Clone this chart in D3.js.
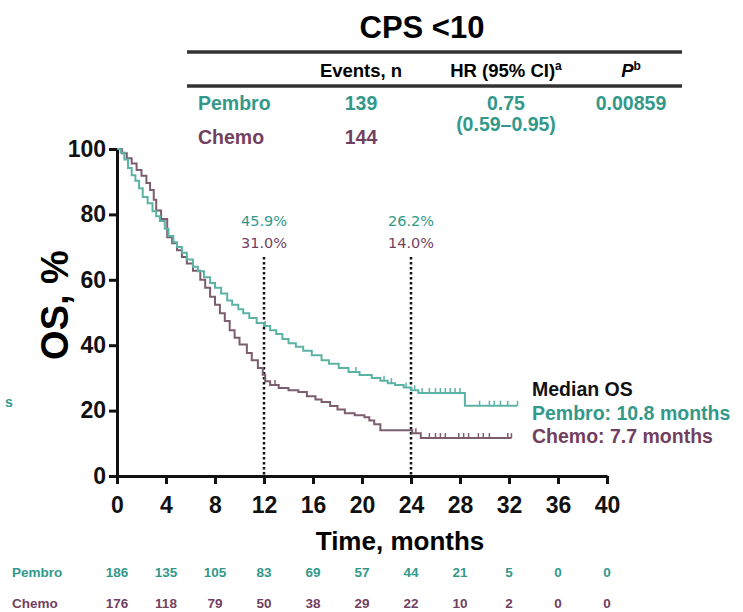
<!DOCTYPE html>
<html>
<head>
<meta charset="utf-8">
<script src="https://cdn.jsdelivr.net/npm/d3@7"></script>
<style>
  body { margin: 0; background: #fff; }
  svg { display: block; }
  text { font-family: "Liberation Sans", Arial, sans-serif; }
</style>
</head>
<body>
<svg id="chart" width="743" height="612"></svg>
<script>
// KM curve readings (months, OS %)
const pembroTime = [0, 0.3, 0.6, 0.9, 1.2, 1.5, 1.8, 2.1, 2.5, 2.9, 3.2, 3.5, 3.9, 4.2, 4.6, 4.9, 5.3, 5.7, 6.2, 6.6, 7.1, 7.6, 8.0, 8.5, 9.0, 9.4, 9.9, 10.3, 10.8, 11.4, 12.0, 12.5, 13.0, 13.5, 14.0, 14.6, 15.2, 15.9, 16.7, 17.3, 18.1, 18.9, 19.8, 20.8, 21.5, 22.1, 22.7, 23.4, 24.0, 24.6, 28.4, 32.7];
const pembroOS   = [100, 98.9, 96.8, 94.2, 92.0, 90.3, 88.0, 85.3, 83.4, 81.0, 79.4, 78.0, 75.6, 73.4, 71.5, 70.0, 68.3, 66.2, 64.0, 62.6, 60.8, 59.0, 57.6, 55.8, 53.7, 52.4, 51.0, 49.8, 48.3, 46.8, 45.9, 44.6, 43.4, 41.9, 40.6, 39.5, 38.3, 36.9, 35.4, 34.3, 33.0, 31.8, 30.9, 30.0, 29.1, 28.4, 27.8, 27.1, 26.2, 25.4, 21.5, 21.5];
const chemoTime  = [0, 0.4, 0.8, 1.2, 1.6, 2.0, 2.4, 2.7, 3.0, 3.2, 3.6, 4.1, 4.5, 4.9, 5.3, 5.7, 6.2, 6.8, 7.2, 7.6, 8.0, 8.4, 8.8, 9.2, 9.6, 10.0, 10.6, 11.0, 11.5, 11.9, 12.1, 12.5, 13.2, 14.0, 14.8, 15.5, 16.2, 16.7, 17.4, 18.0, 18.6, 19.4, 20.2, 20.6, 21.0, 21.5, 24.1, 24.8, 32.2];
const chemoOS    = [100, 98.7, 97.2, 95.6, 93.6, 91.8, 89.6, 87.5, 84.5, 81.2, 78.6, 73.0, 71.2, 69.0, 67.0, 65.0, 62.8, 60.0, 57.6, 54.8, 52.4, 49.8, 47.4, 44.6, 42.3, 40.2, 37.6, 35.4, 33.0, 31.0, 29.0, 27.8, 26.9, 26.2, 25.7, 24.4, 23.4, 22.6, 21.4, 20.3, 19.2, 18.6, 18.0, 17.0, 15.8, 14.0, 13.1, 11.6, 11.6];
const pembroCensor = [12.1, 19.5, 21.8, 22.4, 23.6, 24.3, 24.9, 25.5, 26.0, 26.4, 26.8, 27.2, 27.6, 28.0, 29.6, 30.4, 30.8, 31.3, 31.9, 32.7];
const chemoCensor  = [12.9, 24.4, 25.5, 26.0, 26.4, 26.8, 27.9, 28.3, 28.7, 29.5, 29.9, 30.4, 31.9, 32.2];

const xTicks = [0, 4, 8, 12, 16, 20, 24, 28, 32, 36, 40];
const yTicks = [0, 20, 40, 60, 80, 100];
const atRiskPembro = [186, 135, 105, 83, 69, 57, 44, 21, 5, 0, 0];
const atRiskChemo  = [176, 118, 79, 50, 38, 29, 22, 10, 2, 0, 0];

const landmarkMonths = [12, 24];
const pembroLandmark = ["45.9%", "26.2%"];
const chemoLandmark  = ["31.0%", "14.0%"];

const armNames = ["Pembro", "Chemo"];
const events = [139, 144];
const hrText = ["0.75", "(0.59\u20130.95)"];
const pText = "0.00859";
const medianText = ["Pembro: 10.8 months", "Chemo: 7.7 months"];

const teal = "#32998a", tealLine = "#5cb3a5";
const plum = "#733f5f", plumLine = "#7c5d70";

const svg = d3.select("#chart");

const x = d3.scaleLinear().domain([0, 40]).range([117, 607]);
const y = d3.scaleLinear().domain([0, 100]).range([476, 149]);

// ---- table on top
svg.append("text").attr("x", 422).attr("y", 38).attr("text-anchor", "middle")
  .style("font-size", "31px").style("font-weight", "bold").text("CPS <10");
svg.append("line").attr("x1", 187).attr("x2", 682).attr("y1", 52).attr("y2", 52)
  .attr("stroke", "#333").attr("stroke-width", 3.5);
svg.append("line").attr("x1", 187).attr("x2", 682).attr("y1", 86).attr("y2", 86)
  .attr("stroke", "#333").attr("stroke-width", 3.5);

const hdr = svg.append("g").style("font-size", "18.5px").style("font-weight", "bold");
hdr.append("text").attr("x", 361).attr("y", 77).attr("text-anchor", "middle").text("Events, n");
const hrH = hdr.append("text").attr("x", 506).attr("y", 77).attr("text-anchor", "middle");
hrH.append("tspan").text("HR (95% CI)");
hrH.append("tspan").attr("dy", -7).style("font-size", "12px").text("a");
const pH = hdr.append("text").attr("x", 631).attr("y", 77).attr("text-anchor", "middle");
pH.append("tspan").style("font-style", "italic").text("P");
pH.append("tspan").attr("dy", -7).style("font-size", "12px").text("b");

const rows = svg.append("g").style("font-size", "19.5px").style("font-weight", "bold");
armNames.forEach((name, i) => {
  const c = i === 0 ? teal : plum;
  const by = i === 0 ? 110 : 144;
  rows.append("text").attr("x", 198).attr("y", by).attr("fill", c).text(name);
  rows.append("text").attr("x", 361).attr("y", by).attr("text-anchor", "middle").attr("fill", c).text(events[i]);
});
rows.append("text").attr("x", 506).attr("y", 110).attr("text-anchor", "middle").attr("fill", teal).text(hrText[0]);
rows.append("text").attr("x", 506).attr("y", 131).attr("text-anchor", "middle").attr("fill", teal).text(hrText[1]);
rows.append("text").attr("x", 631).attr("y", 110).attr("text-anchor", "middle").attr("fill", teal).text(pText);

// ---- axes
const yAxis = svg.append("g").attr("transform", `translate(${x(0)},0)`)
  .call(d3.axisLeft(y).tickValues(yTicks).tickSize(8).tickSizeOuter(0).tickPadding(3));
const xAxis = svg.append("g").attr("transform", `translate(0,${y(0)})`)
  .call(d3.axisBottom(x).tickValues(xTicks).tickSize(8).tickSizeOuter(0).tickPadding(13));
[xAxis, yAxis].forEach(a => {
  a.select(".domain").attr("stroke", "#111").attr("stroke-width", 3);
  a.selectAll(".tick line").attr("stroke", "#111").attr("stroke-width", 3);
  a.selectAll(".tick text").attr("fill", "#111")
    .style("font-family", "'Liberation Sans', Arial, sans-serif")
    .style("font-weight", "bold").style("font-size", "23px");
});

svg.append("text").attr("transform", "translate(68,305) rotate(-90)")
  .attr("text-anchor", "middle").style("font-size", "38px").style("font-weight", "bold")
  .text("OS, %");
svg.append("text").attr("x", 400).attr("y", 550).attr("text-anchor", "middle")
  .style("font-size", "26px").style("font-weight", "bold").text("Time, months");

// ---- landmark lines
landmarkMonths.forEach((m, i) => {
  svg.append("line").attr("x1", x(m)).attr("x2", x(m)).attr("y1", y(67)).attr("y2", y(0))
    .attr("stroke", "#111").attr("stroke-width", 2.5).attr("stroke-dasharray", "2.5,2.5");
  svg.append("text").attr("x", x(m)).attr("y", 226).attr("text-anchor", "middle")
    .attr("fill", teal).style("font-family", "'DejaVu Sans', sans-serif").style("font-size", "14.5px")
    .text(pembroLandmark[i]);
  svg.append("text").attr("x", x(m)).attr("y", 248).attr("text-anchor", "middle")
    .attr("fill", plum).style("font-family", "'DejaVu Sans', sans-serif").style("font-size", "14.5px")
    .text(chemoLandmark[i]);
});

// ---- KM curves
function stepAt(times, vals, t) {
  let k = d3.bisectRight(times, t) - 1;
  return vals[Math.max(0, k)];
}
const line = d3.line().x(d => x(d[0])).y(d => y(d[1])).curve(d3.curveStepAfter);
const arms = [
  { t: pembroTime, v: pembroOS, c: pembroCensor, col: tealLine },
  { t: chemoTime, v: chemoOS, c: chemoCensor, col: plumLine }
];
arms.slice().reverse().forEach(a => {
  svg.append("path").datum(a.t.map((t, i) => [t, a.v[i]]))
    .attr("d", line).attr("fill", "none").attr("stroke", a.col).attr("stroke-width", 2);
  svg.append("g").selectAll("line").data(a.c).join("line")
    .attr("x1", d => x(d)).attr("x2", d => x(d))
    .attr("y1", d => y(stepAt(a.t, a.v, d))).attr("y2", d => y(stepAt(a.t, a.v, d)) - 5)
    .attr("stroke", a.col).attr("stroke-width", 1.5);
});

// ---- median OS legend
const leg = svg.append("g").style("font-size", "19.5px").style("font-weight", "bold");
leg.append("text").attr("x", 532).attr("y", 396).attr("fill", "#111").text("Median OS");
leg.append("text").attr("x", 532).attr("y", 420).attr("fill", teal).text(medianText[0]);
leg.append("text").attr("x", 532).attr("y", 443).attr("fill", plum).text(medianText[1]);

// stray cropped glyph at left edge
svg.append("text").attr("x", 5).attr("y", 407).attr("fill", teal)
  .style("font-size", "14px").style("font-weight", "bold").text("s");

// ---- number at risk
const risk = svg.append("g").style("font-size", "13.5px").style("font-weight", "bold");
[atRiskPembro, atRiskChemo].forEach((vals, i) => {
  const c = i === 0 ? teal : plum;
  const by = i === 0 ? 577 : 608;
  risk.append("text").attr("x", 12).attr("y", by).attr("fill", c).text(armNames[i]);
  risk.selectAll(null).data(vals).join("text")
    .attr("x", (d, k) => x(xTicks[k])).attr("y", by).attr("text-anchor", "middle")
    .attr("fill", c)
    .text(d => d);
});
</script>
</body>
</html>
